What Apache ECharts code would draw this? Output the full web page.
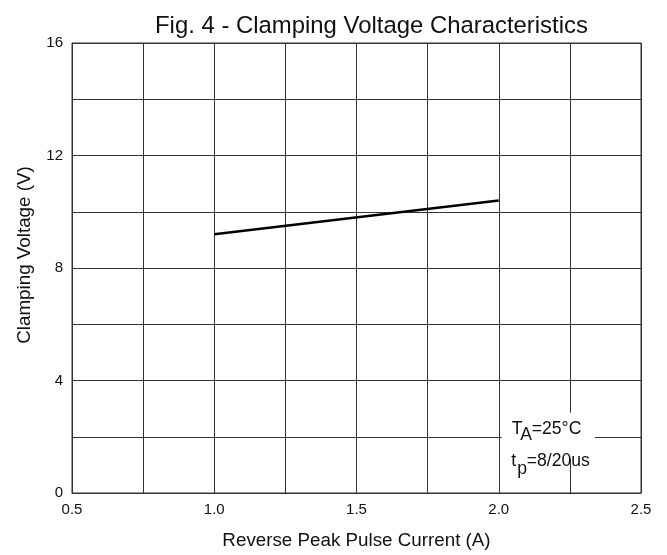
<!DOCTYPE html>
<html>
<head>
<meta charset="utf-8">
<script src="https://cdn.jsdelivr.net/npm/echarts@6/dist/echarts.min.js"></script>
<style>
html,body{margin:0;padding:0;background:#fff;}
#chart{width:667px;height:555px;}
</style>
</head>
<body>
<div id="chart"></div>
<script>
// ---- data ----
var titleText = 'Fig. 4 - Clamping Voltage Characteristics';
var xAxisTitle = 'Reverse Peak Pulse Current (A)';
var yAxisTitle = 'Clamping Voltage (V)';
var currentA = [1.0, 2.0];          // Reverse peak pulse current (A)
var voltageV = [9.2, 10.4];         // Clamping voltage (V)
var xLabelValues = [0.5, 1.0, 1.5, 2.0, 2.5];
var yLabelValues = [0, 4, 8, 12, 16];
var noteLine1 = ['T', 'A', '=25°C'];
var noteLine2 = ['t', 'p', '=8/20us'];

var FONT = 'Liberation Sans, Arial, Helvetica, sans-serif';
var GRID = '#333333';

function inList(v, list) {
  for (var i = 0; i < list.length; i++) if (Math.abs(v - list[i]) < 1e-9) return true;
  return false;
}

var chart = echarts.init(document.getElementById('chart'), null, {renderer: 'canvas'});

var seriesData = currentA.map(function (x, i) { return [x, voltageV[i]]; });

chart.setOption({
  animation: false,
  backgroundColor: '#fff',
  title: {
    text: titleText,
    left: 150,
    top: 9,
    textStyle: {fontFamily: FONT, fontSize: 23.9, fontWeight: 'normal', color: '#111'}
  },
  grid: {
    left: 72, right: 26, top: 43, bottom: 62,
    show: true, borderColor: GRID, borderWidth: 1, backgroundColor: 'transparent'
  },
  xAxis: {
    type: 'value',
    min: 0.5, max: 2.5, interval: 0.25,
    name: xAxisTitle,
    nameLocation: 'middle',
    nameGap: 38,
    nameTextStyle: {fontFamily: FONT, fontSize: 18.8, color: '#111'},
    axisLine: {show: true, lineStyle: {color: GRID, width: 1}},
    axisTick: {show: false},
    splitLine: {show: true, lineStyle: {color: GRID, width: 1}},
    axisLabel: {
      fontFamily: FONT, fontSize: 15, color: '#111', margin: 9,
      formatter: function (v) { return inList(v, xLabelValues) ? v.toFixed(1) : ''; }
    }
  },
  yAxis: {
    type: 'value',
    min: 0, max: 16, interval: 2,
    name: yAxisTitle,
    nameLocation: 'middle',
    nameRotate: 90,
    nameGap: 38,
    nameTextStyle: {fontFamily: FONT, fontSize: 18.8, color: '#111', padding: [0, 0, 0, 26]},
    axisLine: {show: true, lineStyle: {color: GRID, width: 1}},
    axisTick: {show: false},
    splitLine: {show: true, lineStyle: {color: GRID, width: 1}},
    axisLabel: {
      fontFamily: FONT, fontSize: 15, color: '#111', margin: 9,
      formatter: function (v) { return inList(v, yLabelValues) ? String(v) : ''; }
    }
  },
  series: [{
    type: 'line',
    data: seriesData,
    showSymbol: false,
    symbol: 'none',
    lineStyle: {color: '#000', width: 2.6},
    z: 5
  }]
});

// Annotation box anchored at the (2.0, 2) grid intersection
var p = chart.convertToPixel({gridIndex: 0}, [2.0, 2]);
var ax = p[0], ay = p[1];
var ts = {fontFamily: FONT, fontSize: 17.6, fill: '#111', verticalAlign: 'middle', align: 'left'};
function txt(s, dx, dy) {
  return {type: 'text', x: ax + dx, y: ay + dy, z: 20,
    style: Object.assign({}, ts, {text: s})};
}
chart.setOption({
  graphic: [
    {type: 'rect', z: 15, shape: {x: ax + 3, y: ay - 24, width: 93, height: 46}, style: {fill: '#fff'}},
    txt(noteLine1[0], 13, -8),
    txt(noteLine1[1], 21.5, -1.5),
    txt(noteLine1[2], 33, -8),
    txt(noteLine2[0], 12.5, 24),
    txt(noteLine2[1], 18.5, 32),
    txt(noteLine2[2], 28, 24)
  ]
});
</script>
</body>
</html>
